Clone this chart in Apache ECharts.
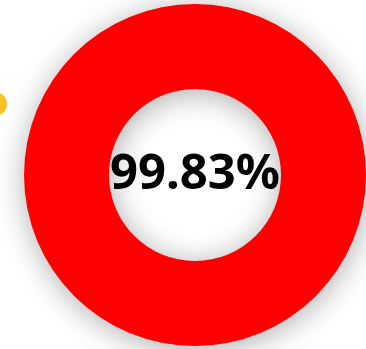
<!DOCTYPE html>
<html>
<head>
<meta charset="utf-8">
<style>
  html, body { margin: 0; padding: 0; background: #ffffff; }
  #chart { width: 366px; height: 349px; }
</style>
<script src="https://cdn.jsdelivr.net/npm/echarts@6/dist/echarts.min.js"></script>
</head>
<body>
<div id="chart"></div>
<script>
// Completion rate shown in the ring
const names = ['完成率'];
const values = [99.83];
const ringColors = ['#ff0000'];

const chart = echarts.init(document.getElementById('chart'), null, { renderer: 'canvas' });

chart.setOption({
  animation: false,
  backgroundColor: '#ffffff',
  graphic: [
    {
      // small yellow marker partly outside the left edge
      type: 'rect',
      x: -5,
      y: 104,
      rotation: -0.55,
      shape: { x: -12, y: -12, width: 24, height: 24, r: [0, 12, 12, 12] },
      style: { fill: '#ffc125' },
      z: 1
    }
  ],
  series: [
    {
      type: 'pie',
      center: [195, 175],
      radius: [86, 171],
      startAngle: 90,
      silent: true,
      avoidLabelOverlap: false,
      itemStyle: {
        shadowBlur: 30,
        shadowColor: 'rgba(0,0,0,0.32)',
        shadowOffsetX: 1,
        shadowOffsetY: 4
      },
      label: {
        show: true,
        position: 'center',
        formatter: (p) => p.value.toFixed(2) + '%',
        fontFamily: 'Noto Sans',
        fontWeight: 'bold',
        fontSize: 49,
        color: '#000000'
      },
      labelLine: { show: false },
      data: names.map((n, i) => ({ name: n, value: values[i], itemStyle: { color: ringColors[i] } })),
      z: 2
    }
  ]
});
</script>
</body>
</html>
